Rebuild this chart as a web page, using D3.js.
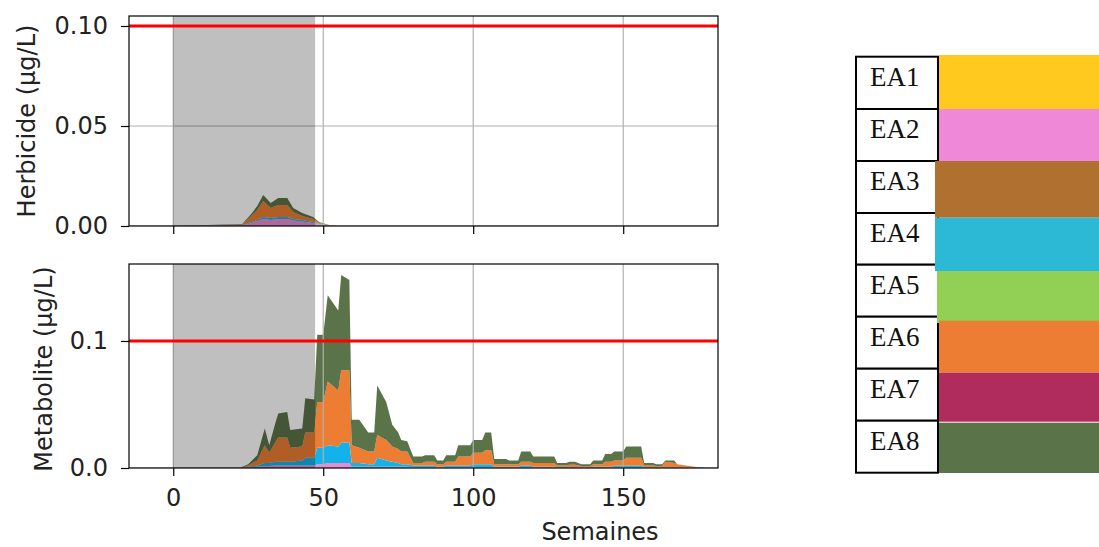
<!DOCTYPE html>
<html><head><meta charset="utf-8">
<script src="https://cdn.jsdelivr.net/npm/d3@7"></script>
<style>body{margin:0;background:#fff}svg{display:block}</style>
</head><body>
<svg id="c" width="1099" height="547"></svg>
<script>
// ---------- DATA ----------
const seriesNames = ["EA1","EA2","EA3","EA4","EA5","EA6","EA7","EA8"];
const legendColors = ["#FFC91E","#F088D8","#B07030","#2CB9D6","#92CF55","#EC7D33","#AF2C5C","#5A7349"];
const chartKeys = ["EA2","EA4","EA6","EA8"];
const chartColors = {EA2:"#E98BD0", EA4:"#14B2EA", EA6:"#EC7D33", EA8:"#5B7349"};

const xTicks = [0, 50, 100, 150];
const herbTicks = [0.00, 0.05, 0.10];
const metaTicks = [0.0, 0.1];
const threshold = 0.1;
const shadeStart = 0, shadeEnd = 47.3;

// Herbicide panel
const weeksH  = [0, 23, 26, 28, 30, 32.5, 35, 38, 40, 43, 46.6, 48.6, 52, 55];
const herbEA2 = [0, .0003, .0015, .0025, .0035, .003, .0035, .0035, .0028, .0022, .0015, .0007, .0001, 0];
const herbEA4 = [0, .0001, .0005, .0005, .001, .001, .001, .001, .0007, .0008, .0005, .0003, .0001, 0];
const herbEA6 = [0, .0004, .003, .005, .008, .005, .006, .006, .0035, .002, .0015, .0005, .0002, 0];
const herbEA8 = [0, .0002, .001, .002, .003, .0025, .0035, .0035, .002, .0015, .001, .0005, .0001, 0];

// Metabolite panel
const weeksM  = [0,22,25,28,30.5,32,34,35,38,39,43,44,47,48,50,51.5,55,56,58.7,59.5,62,65,67,68,71,73,75,76,78,80,83,84,87,88,90,91,94,95,99,100,103,104,106,107,111,112,115,116,119,120,127,128,131,132,134,136,139,140,143,144,146,147,150,151,156,157,160,161,163,164,167,168,172,176,178];
const metaEA2 = [0,0,.0005,.001,.0015,.0015,.002,.002,.002,.002,.002,.002,.002,.003,.003,.004,.004,.004,.004,.001,.001,.001,.001,.001,.001,.001,.001,.001,.001,.0005,.0005,.0005,.0005,.0003,.0003,.0005,.0005,.0005,.0005,.0005,.0005,.0005,.0005,.0003,.0003,.0003,.0003,.0003,.0003,.0003,.0003,.0002,.0002,.0002,.0002,.0001,.0001,.0002,.0002,.0002,.0002,.0003,.0003,.0003,.0003,.0001,.0001,.0001,.0001,.0001,.0001,0,0,0,0];
const metaEA4 = [0,0,.0005,.001,.0025,.0025,.003,.003,.003,.003,.004,.006,.006,.013,.013,.014,.013,.016,.016,.003,.003,.002,.002,.007,.005,.004,.003,.002,.002,.0015,.0015,.0015,.0015,.0007,.0007,.0015,.0015,.0015,.0015,.0025,.0025,.0025,.0025,.0007,.0007,.0007,.0007,.0017,.0017,.0007,.0007,.0006,.0006,.0006,.0006,.0004,.0004,.0008,.0008,.0008,.0008,.0017,.0017,.0017,.0017,.0004,.0004,.0003,.0003,.0004,.0004,.0003,.0002,0,0];
const metaEA6 = [0,0,.001,.004,.014,.008,.015,.019,.019,.011,.011,.020,.020,.036,.036,.050,.044,.057,.057,.014,.012,.010,.010,.018,.016,.012,.011,.010,.010,.002,.002,.003,.003,.002,.002,.003,.003,.007,.007,.009,.009,.011,.011,.002,.002,.002,.002,.003,.003,.003,.003,.0012,.0012,.0017,.0017,.001,.001,.002,.002,.004,.004,.004,.004,.006,.006,.0015,.0015,.0011,.0011,.0045,.0035,.0027,.0013,.0003,0];
const metaEA8 = [0,0,.001,.004,.013,.006,.015,.019,.020,.014,.014,.027,.026,.053,.053,.068,.063,.075,.071,.020,.022,.015,.015,.039,.030,.017,.013,.009,.008,.005,.005,.005,.005,.003,.003,.005,.005,.009,.009,.010,.010,.014,.014,.004,.004,.003,.003,.008,.008,.005,.005,.002,.002,.0025,.0025,.0015,.0015,.003,.003,.006,.006,.007,.007,.009,.009,.002,.002,.0015,.0015,.001,.002,0,0,0,0];

// ---------- DRAW ----------
const svg = d3.select("#c");
const font = "DejaVu Sans, sans-serif";
const X0 = 129, X1 = 718;
const x = d3.scaleLinear().domain([-14.75, 181.6]).range([X0, X1]);

function panel(cfg) {
  const y = d3.scaleLinear().domain([0, cfg.ymax]).range([cfg.bottom, cfg.top]);
  const g = svg.append("g");
  const rows = cfg.weeks.map((w, i) => {
    const r = {w};
    chartKeys.forEach(k => r[k] = cfg.vals[k][i]);
    return r;
  });
  const stack = d3.stack().keys(chartKeys)(rows);
  const area = d3.area().x(d => x(d.data.w)).y0(d => y(d[0])).y1(d => y(d[1]));
  g.append("defs").append("clipPath").attr("id", "clip" + cfg.id)
    .append("rect").attr("x", X0).attr("y", cfg.top).attr("width", X1 - X0).attr("height", cfg.bottom - cfg.top);
  const inner = g.append("g").attr("clip-path", `url(#clip${cfg.id})`);
  inner.selectAll("path.a").data(stack).join("path").attr("class", "a")
    .attr("d", area).attr("fill", d => chartColors[d.key]);
  // grid
  inner.selectAll("line.gx").data(xTicks).join("line")
    .attr("x1", d => x(d)).attr("x2", d => x(d)).attr("y1", cfg.top).attr("y2", cfg.bottom)
    .attr("stroke", "#b0b0b0").attr("stroke-width", 1.2);
  inner.selectAll("line.gy").data(cfg.ticks).join("line")
    .attr("x1", X0).attr("x2", X1).attr("y1", d => y(d)).attr("y2", d => y(d))
    .attr("stroke", "#b0b0b0").attr("stroke-width", 1.2);
  // shaded span
  inner.append("rect").attr("x", x(shadeStart)).attr("width", x(shadeEnd) - x(shadeStart))
    .attr("y", cfg.top).attr("height", cfg.bottom - cfg.top).attr("fill", "#000").attr("fill-opacity", 0.25);
  // threshold
  inner.append("line").attr("x1", X0).attr("x2", X1).attr("y1", y(threshold)).attr("y2", y(threshold))
    .attr("stroke", "#ff0000").attr("stroke-width", 3);
  // frame
  g.append("rect").attr("x", X0).attr("y", cfg.top).attr("width", X1 - X0).attr("height", cfg.bottom - cfg.top)
    .attr("fill", "none").attr("stroke", "#000").attr("stroke-width", 1.2);
  // y axis
  const ya = g.append("g").attr("transform", `translate(${X0},0)`)
    .call(d3.axisLeft(y).tickValues(cfg.ticks).tickFormat(d3.format(cfg.fmt)).tickSize(8).tickPadding(13));
  ya.select(".domain").remove();
  ya.selectAll("line").attr("stroke", "#000").attr("stroke-width", 1.2);
  ya.selectAll("text").attr("font-family", font).attr("font-size", 24).attr("fill", "#222");
  // x axis
  const xa = g.append("g").attr("transform", `translate(0,${cfg.bottom})`)
    .call(d3.axisBottom(x).tickValues(xTicks).tickSize(8).tickPadding(13).tickFormat(cfg.xlabels ? d3.format("d") : () => ""));
  xa.select(".domain").remove();
  xa.selectAll("line").attr("stroke", "#000").attr("stroke-width", 1.2);
  xa.selectAll("text").attr("font-family", font).attr("font-size", 24).attr("fill", "#222");
  // y label
  g.append("text").attr("transform", `translate(${cfg.labelX},${(cfg.top + cfg.bottom) / 2 + cfg.labelDy}) rotate(-90)`)
    .attr("text-anchor", "middle").attr("font-family", font).attr("font-size", 24).attr("fill", "#222")
    .text(cfg.label);
}

panel({id: "h", top: 16, bottom: 226, ymax: 0.105, ticks: herbTicks, fmt: ".2f", weeks: weeksH,
  vals: {EA2: herbEA2, EA4: herbEA4, EA6: herbEA6, EA8: herbEA8},
  label: "Herbicide (µg/L)", labelX: 35, labelDy: 0, xlabels: false});
panel({id: "m", top: 264, bottom: 468, ymax: 0.1606, ticks: metaTicks, fmt: ".1f", weeks: weeksM,
  vals: {EA2: metaEA2, EA4: metaEA4, EA6: metaEA6, EA8: metaEA8},
  label: "Metabolite (µg/L)", labelX: 52, labelDy: 3, xlabels: true});

svg.append("text").attr("x", 600).attr("y", 540).attr("text-anchor", "middle")
  .attr("font-family", font).attr("font-size", 24).attr("fill", "#222").text("Semaines");

// ---------- LEGEND TABLE ----------
const rowTops = [56.7, 109, 161, 213, 264.7, 316.7, 368.7, 420.7, 472.7];
const colorBoxes = [
  {x: 939, y0: 55, y1: 109}, {x: 939, y0: 109, y1: 161}, {x: 935, y0: 161, y1: 217.7},
  {x: 935, y0: 217.7, y1: 271}, {x: 937, y0: 271, y1: 323}, {x: 939, y0: 320.7, y1: 372.7},
  {x: 939, y0: 372.7, y1: 421.7}, {x: 939, y0: 422.7, y1: 473}];
const leg = svg.append("g");
leg.selectAll("rect.cell").data(seriesNames).join("rect").attr("class", "cell")
  .attr("x", 856).attr("y", (d, i) => rowTops[i]).attr("width", 82).attr("height", (d, i) => rowTops[i + 1] - rowTops[i])
  .attr("fill", "#fff").attr("stroke", "#000").attr("stroke-width", 2);
leg.selectAll("text").data(seriesNames).join("text")
  .attr("x", 870).attr("y", (d, i) => rowTops[i] + 29)
  .attr("font-family", "Liberation Serif, Times New Roman, serif").attr("font-size", 27).attr("fill", "#111")
  .text(d => d);
leg.selectAll("rect.sw").data(seriesNames).join("rect").attr("class", "sw")
  .attr("x", (d, i) => colorBoxes[i].x).attr("y", (d, i) => colorBoxes[i].y0)
  .attr("width", (d, i) => 1099 - colorBoxes[i].x).attr("height", (d, i) => colorBoxes[i].y1 - colorBoxes[i].y0)
  .attr("fill", (d, i) => legendColors[i]);
</script>
</body></html>
